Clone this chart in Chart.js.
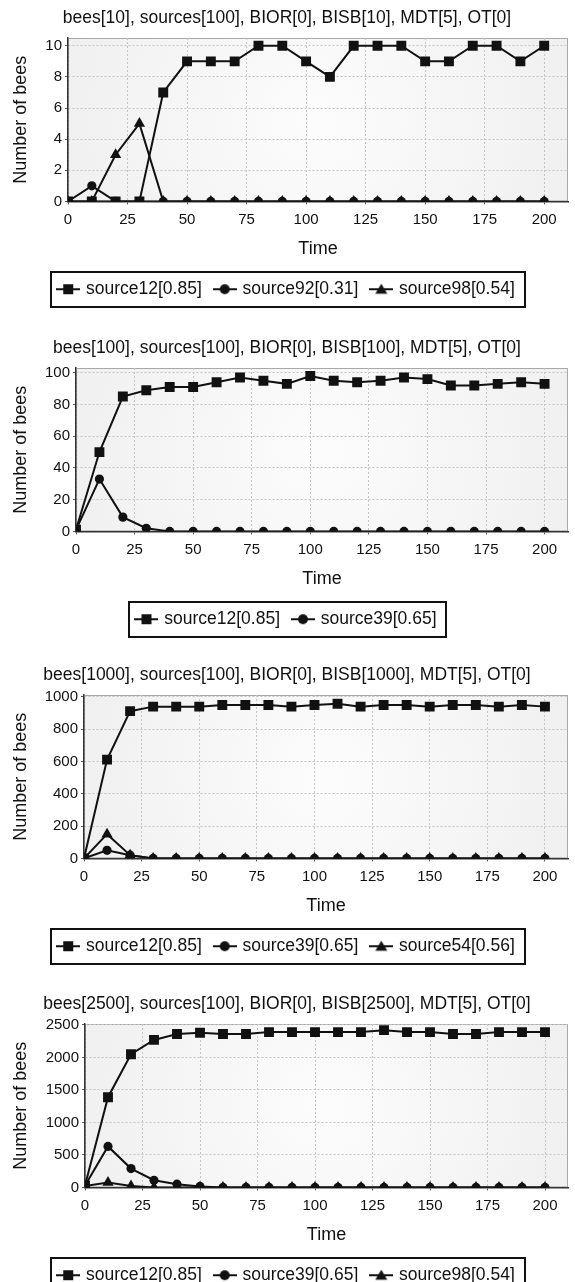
<!DOCTYPE html>
<html>
<head>
<meta charset="utf-8">
<script src="https://cdn.jsdelivr.net/npm/chart.js@4.4.1/dist/chart.umd.min.js"></script>
<style>
body { margin: 0; background: #fff; overflow: hidden; width: 575px; height: 1282px; position: relative; }
canvas { display: block; position: absolute; left: 0; }
</style>
</head>
<body>
<canvas id="GraficoBees10" width="575" height="328" style="top:0px"></canvas>
<canvas id="GraficoBees100" width="575" height="328" style="top:330px"></canvas>
<canvas id="GraficoBees1000" width="575" height="328" style="top:657px"></canvas>
<canvas id="GraficoBees2500" width="575" height="328" style="top:986px"></canvas>
<script>
// time axis (x) shared by every panel
var timeSteps = [0, 10, 20, 30, 40, 50, 60, 70, 80, 90, 100, 110, 120, 130, 140, 150, 160, 170, 180, 190, 200];
var xTicks = [0, 25, 50, 75, 100, 125, 150, 175, 200];

// panel 1: bees[10]
var yTicks10 = [0, 2, 4, 6, 8, 10];
var bees10Source12 = [0, 0, 0, 0, 7, 9, 9, 9, 10, 10, 9, 8, 10, 10, 10, 9, 9, 10, 10, 9, 10];
var bees10Source92 = [0, 1, 0, 0, 0, 0, 0, 0, 0, 0, 0, 0, 0, 0, 0, 0, 0, 0, 0, 0, 0];
var bees10Source98 = [0, 0, 3, 5, 0, 0, 0, 0, 0, 0, 0, 0, 0, 0, 0, 0, 0, 0, 0, 0, 0];

// panel 2: bees[100]
var yTicks100 = [0, 20, 40, 60, 80, 100];
var bees100Source12 = [1, 50, 85, 89, 91, 91, 94, 97, 95, 93, 98, 95, 94, 95, 97, 96, 92, 92, 93, 94, 93];
var bees100Source39 = [1, 33, 9, 2, 0, 0, 0, 0, 0, 0, 0, 0, 0, 0, 0, 0, 0, 0, 0, 0, 0];

// panel 3: bees[1000]
var yTicks1000 = [0, 200, 400, 600, 800, 1000];
var bees1000Source12 = [0, 612, 912, 940, 940, 940, 950, 950, 950, 940, 950, 958, 940, 950, 950, 940, 950, 950, 940, 950, 940];
var bees1000Source39 = [0, 50, 20, 0, 0, 0, 0, 0, 0, 0, 0, 0, 0, 0, 0, 0, 0, 0, 0, 0, 0];
var bees1000Source54 = [0, 150, 20, 0, 0, 0, 0, 0, 0, 0, 0, 0, 0, 0, 0, 0, 0, 0, 0, 0, 0];

// panel 4: bees[2500]
var yTicks2500 = [0, 500, 1000, 1500, 2000, 2500];
var bees2500Source12 = [30, 1388, 2050, 2270, 2360, 2380, 2360, 2360, 2390, 2390, 2390, 2390, 2390, 2420, 2390, 2390, 2360, 2360, 2390, 2390, 2390];
var bees2500Source39 = [30, 630, 290, 110, 50, 15, 0, 0, 0, 0, 0, 0, 0, 0, 0, 0, 0, 0, 0, 0, 0];
var bees2500Source98 = [20, 75, 20, 0, 0, 0, 0, 0, 0, 0, 0, 0, 0, 0, 0, 0, 0, 0, 0, 0, 0];

var fonte = "'Liberation Sans', Arial, sans-serif";
var preto = "#111111";

function Pontos(valores) {
    return timeSteps.map(function (t, i) { return { x: t, y: valores[i] }; });
}

function Serie(label, valores, estilo) {
    var raio = estilo === 'rect' ? 7 : (estilo === 'circle' ? 4.6 : 6.5);
    return {
        label: label,
        data: Pontos(valores),
        borderColor: preto,
        backgroundColor: preto,
        borderWidth: 2,
        pointStyle: estilo,
        pointRadius: raio,
        pointBorderWidth: 0,
        pointBackgroundColor: preto,
        tension: 0,
        fill: false
    };
}

// line + marker symbol for the legend
function SimboloLegenda(estilo) {
    var c = document.createElement('canvas');
    c.width = 24;
    c.height = 14;
    var ctx = c.getContext('2d');
    ctx.strokeStyle = preto;
    ctx.lineWidth = 2;
    ctx.beginPath();
    ctx.moveTo(0, 7);
    ctx.lineTo(24, 7);
    ctx.stroke();
    ctx.fillStyle = preto;
    if (estilo === 'rect') {
        ctx.fillRect(7, 2, 10, 10);
    } else if (estilo === 'circle') {
        ctx.beginPath();
        ctx.arc(12, 7, 5, 0, Math.PI * 2);
        ctx.fill();
    } else {
        ctx.beginPath();
        ctx.moveTo(12, 1.5);
        ctx.lineTo(18, 11.5);
        ctx.lineTo(6, 11.5);
        ctx.closePath();
        ctx.fill();
    }
    return c;
}

function FixarTicks(valores) {
    return function (eixo) {
        eixo.ticks = valores.map(function (v) { return { value: v }; });
    };
}

var fundoGrafico = {
    id: 'fundoGrafico',
    beforeDraw: function (chart) {
        var a = chart.chartArea, ctx = chart.ctx;
        var cx = (a.left + a.right) / 2, cy = (a.top + a.bottom) / 2;
        var g = ctx.createRadialGradient(cx, cy, 10, cx, cy, a.width * 0.6);
        g.addColorStop(0, '#fcfcfc');
        g.addColorStop(1, '#eeeeee');
        ctx.save();
        ctx.fillStyle = g;
        ctx.fillRect(a.left, a.top, a.width, a.height);
        ctx.strokeStyle = '#a8a8a8';
        ctx.lineWidth = 1;
        ctx.strokeRect(a.left + 0.5, a.top + 0.5, a.width - 1, a.height - 1);
        ctx.restore();
    },
    afterDraw: function (chart) {
        var caixas = chart.legend.legendHitBoxes;
        if (!caixas || !caixas.length) return;
        var esq = Math.min.apply(null, caixas.map(function (b) { return b.left; }));
        var dir = Math.max.apply(null, caixas.map(function (b) { return b.left + b.width; }));
        var topo = caixas[0].top, alt = caixas[0].height;
        var ctx = chart.ctx;
        ctx.save();
        ctx.strokeStyle = preto;
        ctx.lineWidth = 2;
        ctx.strokeRect(Math.round(esq) - 8, Math.round(topo - 8.5), Math.round(dir - esq) + 18, Math.round(alt + 17));
        ctx.restore();
    }
};

function CriarGrafico(id, titulo, series, yMax, yTicks, larguraEixoY) {
    new Chart(document.getElementById(id), {
        type: 'line',
        data: {
            datasets: series.map(function (s) { return Serie(s[0], s[1], s[2]); })
        },
        plugins: [fundoGrafico],
        options: {
            responsive: false,
            animation: false,
            layout: { padding: { top: 0, left: 0, right: 1, bottom: 20 } },
            plugins: {
                title: {
                    display: true,
                    text: titulo,
                    color: preto,
                    font: { family: fonte, size: 17.5, weight: 'normal' },
                    padding: { top: 7.5, bottom: 9.5 }
                },
                legend: {
                    position: 'bottom',
                    labels: {
                        color: preto,
                        font: { family: fonte, size: 17.5 },
                        usePointStyle: true,
                        pointStyleWidth: 18,
                        padding: 14,
                        generateLabels: function (chart) {
                            var itens = Chart.defaults.plugins.legend.labels.generateLabels(chart);
                            itens.forEach(function (item, i) {
                                item.pointStyle = SimboloLegenda(series[i][2]);
                            });
                            return itens;
                        }
                    }
                },
                tooltip: { enabled: false }
            },
            scales: {
                x: {
                    type: 'linear',
                    min: 0,
                    max: 210,
                    afterBuildTicks: FixarTicks(xTicks),
                    title: {
                        display: true,
                        text: 'Time',
                        color: preto,
                        font: { family: fonte, size: 18 },
                        padding: { top: 4, bottom: 6.5 }
                    },
                    ticks: {
                        color: preto,
                        padding: 6,
                        font: { family: fonte, size: 15 },
                        callback: function (v) { return String(v); }
                    },
                    grid: { color: '#c4c4c4', tickColor: '#555', tickLength: 3 },
                    border: { color: '#333', width: 1.5, dash: [2, 2] }
                },
                y: {
                    min: 0,
                    max: yMax,
                    afterBuildTicks: FixarTicks(yTicks),
                    afterFit: function (scale) { scale.width = larguraEixoY; },
                    title: {
                        display: true,
                        text: 'Number of bees',
                        color: preto,
                        font: { family: fonte, size: 18 },
                        padding: { top: 10, bottom: 4 }
                    },
                    ticks: {
                        color: preto,
                        padding: 3,
                        font: { family: fonte, size: 15 },
                        callback: function (v) { return String(v); }
                    },
                    grid: { color: '#c4c4c4', tickColor: '#555', tickLength: 3 },
                    border: { color: '#333', width: 1.5, dash: [2, 2] }
                }
            }
        }
    });
}

CriarGrafico('GraficoBees10', 'bees[10], sources[100], BIOR[0], BISB[10], MDT[5], OT[0]', [
    ['source12[0.85]', bees10Source12, 'rect'],
    ['source92[0.31]', bees10Source92, 'circle'],
    ['source98[0.54]', bees10Source98, 'triangle']
], 10.5, yTicks10, 68);

CriarGrafico('GraficoBees100', 'bees[100], sources[100], BIOR[0], BISB[100], MDT[5], OT[0]', [
    ['source12[0.85]', bees100Source12, 'rect'],
    ['source39[0.65]', bees100Source39, 'circle']
], 103, yTicks100, 76);

CriarGrafico('GraficoBees1000', 'bees[1000], sources[100], BIOR[0], BISB[1000], MDT[5], OT[0]', [
    ['source12[0.85]', bees1000Source12, 'rect'],
    ['source39[0.65]', bees1000Source39, 'circle'],
    ['source54[0.56]', bees1000Source54, 'triangle']
], 1012, yTicks1000, 84);

CriarGrafico('GraficoBees2500', 'bees[2500], sources[100], BIOR[0], BISB[2500], MDT[5], OT[0]', [
    ['source12[0.85]', bees2500Source12, 'rect'],
    ['source39[0.65]', bees2500Source39, 'circle'],
    ['source98[0.54]', bees2500Source98, 'triangle']
], 2515, yTicks2500, 85);
</script>
</body>
</html>
